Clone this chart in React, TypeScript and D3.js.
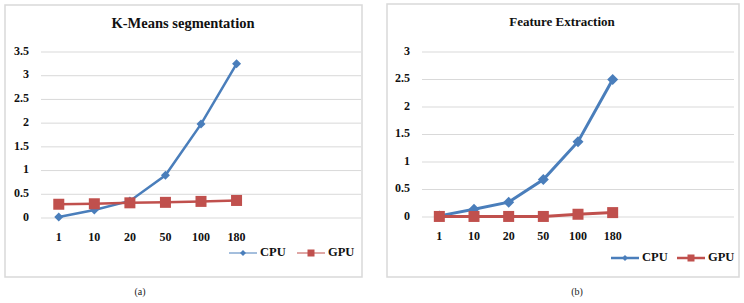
import React from "react";
import * as d3 from "d3";

const categories = ["1", "10", "20", "50", "100", "180"];
const kmeansCPU = [0.02, 0.17, 0.36, 0.9, 1.98, 3.25];
const kmeansGPU = [0.29, 0.3, 0.32, 0.33, 0.35, 0.37];
const kmeansTicks = [0, 0.5, 1, 1.5, 2, 2.5, 3, 3.5];
const featCPU = [0.02, 0.14, 0.27, 0.68, 1.37, 2.5];
const featGPU = [0.01, 0.01, 0.01, 0.01, 0.05, 0.08];
const featTicks = [0, 0.5, 1, 1.5, 2, 2.5, 3];
const seriesNames = ["CPU", "GPU"];

const CPU_COLOR = "#4a7ebb";
const GPU_COLOR = "#c0504d";
const FONT = "Liberation Serif, Times New Roman, serif";

type PanelProps = {
  title: string;
  caption: string;
  cpu: number[];
  gpu: number[];
  ticks: number[];
  box: [number, number, number, number];
  plotX: [number, number];
  plotY: [number, number];
  yLabelX: number;
  xLabelY: number;
  titleX: number;
  titleY: number;
  titleSize: number;
  captionX: number;
  lineW: number;
  markR: number;
  legend: { x: number; y: number; lineW: number; gap: number };
};

function Panel(p: PanelProps) {
  const slots = 9;
  const x = d3.scaleLinear().domain([0, slots]).range(p.plotX);
  const y = d3
    .scaleLinear()
    .domain([0, p.ticks[p.ticks.length - 1]])
    .range(p.plotY);
  const cx = (i: number) => x(i + 0.5);
  const line = d3
    .line<number>()
    .x((_, i) => cx(i))
    .y((d) => y(d));
  const diamond = (px: number, py: number, r: number) =>
    `M${px},${py - r}L${px + r},${py}L${px},${py + r}L${px - r},${py}Z`;
  const [bx0, by0, bx1, by1] = p.box;
  const lg = p.legend;
  const txt = { fontFamily: FONT, fontWeight: 700 as const, fill: "#111" };
  return (
    <g>
      <rect
        x={bx0}
        y={by0}
        width={bx1 - bx0}
        height={by1 - by0}
        fill="#fff"
        stroke="#d9d9d9"
        strokeWidth={1.5}
      />
      <text
        x={p.titleX}
        y={p.titleY}
        textAnchor="middle"
        dominantBaseline="middle"
        style={{ ...txt, fontSize: p.titleSize }}
      >
        {p.title}
      </text>
      {p.ticks.map((t) => (
        <g key={t}>
          <line
            x1={p.plotX[0]}
            x2={p.plotX[1]}
            y1={y(t)}
            y2={y(t)}
            stroke="#d9d9d9"
            strokeWidth={1}
          />
          <text
            x={p.yLabelX}
            y={y(t)}
            textAnchor="end"
            dominantBaseline="middle"
            style={{ ...txt, fontSize: 12 }}
          >
            {String(t)}
          </text>
        </g>
      ))}
      {categories.map((c, i) => (
        <text
          key={c}
          x={cx(i)}
          y={p.xLabelY}
          textAnchor="middle"
          dominantBaseline="middle"
          style={{ ...txt, fontSize: 12 }}
        >
          {c}
        </text>
      ))}
      <path d={line(p.cpu) || ""} fill="none" stroke={CPU_COLOR} strokeWidth={p.lineW} />
      <path d={line(p.gpu) || ""} fill="none" stroke={GPU_COLOR} strokeWidth={p.lineW} />
      {p.cpu.map((v, i) => (
        <path key={"c" + i} d={diamond(cx(i), y(v), p.markR)} fill={CPU_COLOR} />
      ))}
      {p.gpu.map((v, i) => (
        <rect
          key={"g" + i}
          x={cx(i) - 5.5}
          y={y(v) - 5.5}
          width={11}
          height={11}
          fill={GPU_COLOR}
        />
      ))}
      {seriesNames.map((name, k) => {
        const x0 = lg.x + k * lg.gap;
        const col = k === 0 ? CPU_COLOR : GPU_COLOR;
        const mx = x0 + 14;
        return (
          <g key={name}>
            <line x1={x0} x2={x0 + 28} y1={lg.y} y2={lg.y} stroke={col} strokeWidth={lg.lineW} />
            {k === 0 ? (
              <path d={diamond(mx, lg.y, 3)} fill={col} />
            ) : (
              <rect x={mx - 3.5} y={lg.y - 3.5} width={7} height={7} fill={col} />
            )}
            <text
              x={x0 + 31}
              y={lg.y}
              dominantBaseline="middle"
              style={{ ...txt, fontSize: 12.5 }}
            >
              {name}
            </text>
          </g>
        );
      })}
      <text
        x={p.captionX}
        y={293}
        textAnchor="middle"
        dominantBaseline="middle"
        style={{ fontFamily: FONT, fontSize: 10, fill: "#222" }}
      >
        {p.caption}
      </text>
    </g>
  );
}

export default function App() {
  return (
    <svg
      width={744}
      height={303}
      style={{ position: "absolute", left: 0, top: 0, background: "#fff", fontFamily: FONT }}
    >
      <rect width={744} height={303} fill="#fff" />
      <Panel
        title="K-Means segmentation"
        caption="(a)"
        cpu={kmeansCPU}
        gpu={kmeansGPU}
        ticks={kmeansTicks}
        box={[5, 5, 362, 277]}
        plotX={[41, 361]}
        plotY={[218, 52]}
        yLabelX={29}
        xLabelY={238}
        titleX={183}
        titleY={25}
        titleSize={14.5}
        captionX={140}
        lineW={2.5}
        markR={4.5}
        legend={{ x: 229, y: 253, lineW: 1, gap: 68 }}
      />
      <Panel
        title="Feature Extraction"
        caption="(b)"
        cpu={featCPU}
        gpu={featGPU}
        ticks={featTicks}
        box={[387, 4, 739, 277]}
        plotX={[422, 734]}
        plotY={[217, 52]}
        yLabelX={410}
        xLabelY={237}
        titleX={562}
        titleY={23}
        titleSize={13}
        captionX={577}
        lineW={3}
        markR={5.5}
        legend={{ x: 611, y: 258, lineW: 2.5, gap: 66 }}
      />
    </svg>
  );
}
